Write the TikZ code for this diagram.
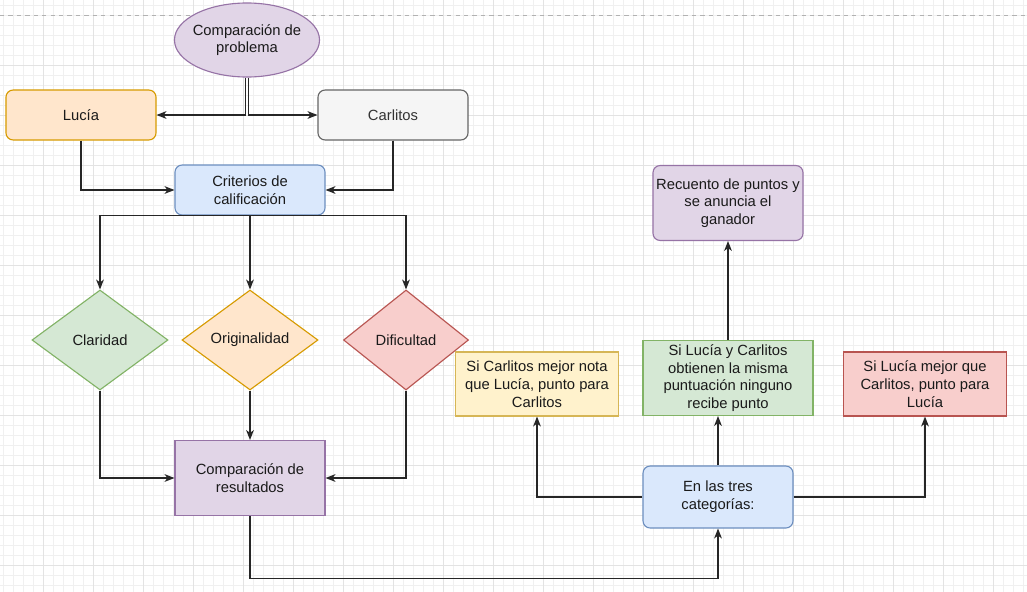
\documentclass[tikz,border=0pt]{standalone}
\usepackage{fontspec}
\setmainfont{Liberation Sans}
\usetikzlibrary{shapes.geometric,arrows.meta}
\definecolor{lilafill}{HTML}{E1D5E7}\definecolor{lilaline}{HTML}{9673A6}
\definecolor{naranjafill}{HTML}{FFE6CC}\definecolor{naranjaline}{HTML}{D79B00}
\definecolor{grisfill}{HTML}{F5F5F5}\definecolor{grisline}{HTML}{666666}
\definecolor{azulfill}{HTML}{DAE8FC}\definecolor{azulline}{HTML}{6C8EBF}
\definecolor{verdefill}{HTML}{D5E8D4}\definecolor{verdeline}{HTML}{82B366}
\definecolor{rojofill}{HTML}{F8CECC}\definecolor{rojoline}{HTML}{B85450}
\definecolor{amarillofill}{HTML}{FFF2CC}\definecolor{amarilloline}{HTML}{D6B656}
\definecolor{texto}{HTML}{1A1A1A}
\begin{document}
\begin{tikzpicture}[x=0.025cm, y=-0.025cm,
  font=\fontsize{10.5}{12.6}\selectfont, text=texto,
  gridmenor/.style={draw=black!6, line width=0.4pt},
  gridmayor/.style={draw=black!11, line width=0.5pt},
  caja/.style={rectangle, draw, line width=0.8pt, align=center,
    minimum width=3.75cm, minimum height=1.25cm, inner sep=1pt},
  redondo/.style={caja, rounded corners=0.18cm},
  rombo/.style={diamond, draw, line width=0.8pt, align=center,
    minimum width=3.4cm, minimum height=2.5cm, inner sep=0pt},
  flecha/.style={draw=black!85, line width=0.9pt,
    -{Stealth[length=7pt, width=5.5pt, inset=2pt]}}]
\useasboundingbox (0,0) rectangle (1027,592);
\fill[white] (0,0) rectangle (1027,592);
\foreach \gx in {3,13,...,1023} \draw[gridmenor] (\gx,0) -- (\gx,592);
\foreach \gy in {5,15,...,585} \draw[gridmenor] (0,\gy) -- (1027,\gy);
\foreach \gx in {43,93,...,1023} \draw[gridmayor] (\gx,0) -- (\gx,592);
\foreach \gy in {65,115,...,565} \draw[gridmayor] (0,\gy) -- (1027,\gy);
\draw[black!30, dashed, line width=0.5pt] (0,15) -- (1027,15);

\node (problema) at (247,40) [ellipse, draw=lilaline, fill=lilafill, line width=0.8pt,
  minimum width=3.625cm, minimum height=1.85cm, inner ysep=0pt, inner xsep=-5pt, align=center]
  {Comparación de\\problema};
\node (lucia) at (81,115) [redondo, draw=naranjaline, fill=naranjafill] {Lucía};
\node (carlitos) at (393,115) [redondo, draw=grisline, fill=grisfill, text=black!80] {Carlitos};
\node (criterios) at (250,190) [redondo, draw=azulline, fill=azulfill] {Criterios de\\calificación};
\node (claridad) at (100,340) [rombo, draw=verdeline, fill=verdefill] {Claridad};
\node (originalidad) at (250,340) [rombo, draw=naranjaline, fill=naranjafill] {Originalidad};
\node (dificultad) at (406,340) [rombo, draw=rojoline, fill=rojofill,
  minimum width=3.125cm] {Dificultad};
\node (resultados) at (250,478) [caja, draw=lilaline, fill=lilafill,
  minimum height=1.875cm] {Comparación de\\resultados};
\node (tres) at (718,497) [redondo, draw=azulline, fill=azulfill,
  minimum height=1.55cm] {En las tres\\categorías:};
\node (sicarlitos) at (537,384) [caja, draw=amarilloline, fill=amarillofill,
  minimum width=4.075cm, minimum height=1.6cm] {Si Carlitos mejor nota\\que Lucía, punto para\\Carlitos};
\node (empate) at (728,378) [caja, draw=verdeline, fill=verdefill,
  minimum width=4.25cm, minimum height=1.875cm] {Si Lucía y Carlitos\\obtienen la misma\\puntuación ninguno\\recibe punto};
\node (silucia) at (925,384) [caja, draw=rojoline, fill=rojofill,
  minimum width=4.075cm, minimum height=1.6cm] {Si Lucía mejor que\\Carlitos, punto para\\Lucía};
\node (recuento) at (728,203) [redondo, draw=lilaline, fill=lilafill,
  minimum height=1.875cm] {Recuento de puntos y\\se anuncia el\\ganador};

\draw[flecha] ([xshift=-0.04cm]problema.south) |- (lucia);
\draw[flecha] ([xshift=0.04cm]problema.south) |- (carlitos);
\draw[flecha] (lucia) |- (criterios);
\draw[flecha] (carlitos) |- (criterios);
\draw[flecha] (criterios.south) -| (claridad);
\draw[flecha] (criterios) -- (originalidad);
\draw[flecha] (criterios.south) -| (dificultad);
\draw[flecha] (claridad) |- (resultados);
\draw[flecha] (originalidad) -- (resultados);
\draw[flecha] (dificultad) |- (resultados);
\draw[flecha] (resultados) |- ([yshift=-1.25cm]tres.south) -- (tres.south);
\draw[flecha] (tres) -| (sicarlitos);
\draw[flecha] (tres.north) -- (tres.north |- empate.south);
\draw[flecha] (tres) -| (silucia);
\draw[flecha] (empate) -- (recuento);
\end{tikzpicture}
\end{document}
